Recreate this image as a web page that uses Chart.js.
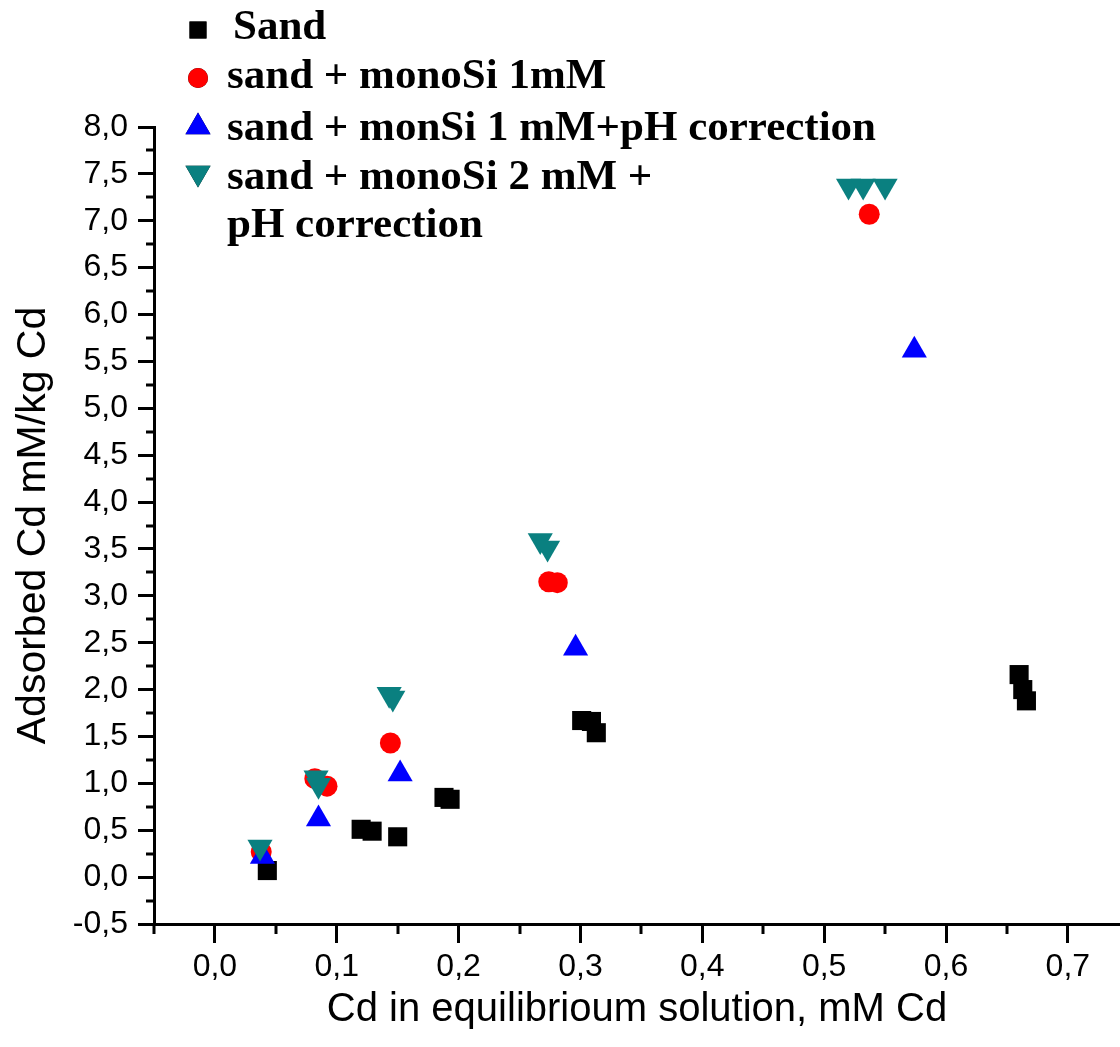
<!DOCTYPE html>
<html>
<head>
<meta charset="utf-8">
<title>Adsorbed Cd</title>
<script src="https://cdn.jsdelivr.net/npm/chart.js@4.4.1/dist/chart.umd.min.js"></script>
<style>
  body { margin: 0; background: #fff; }
  canvas { display: block; }
</style>
</head>
<body>
<canvas id="myChart" width="1120" height="1047"></canvas>
<script>
// series values
var sandX = [0.043, 0.120, 0.129, 0.150, 0.188, 0.193, 0.301, 0.309, 0.313, 0.660, 0.663, 0.666];
var sandY = [0.07, 0.51, 0.49, 0.43, 0.85, 0.83, 1.67, 1.66, 1.54, 2.16, 2.00, 1.88];

var si1X = [0.038, 0.082, 0.092, 0.144, 0.274, 0.281, 0.537];
var si1Y = [0.27, 1.05, 0.97, 1.43, 3.15, 3.14, 7.07];

var si1phX = [0.039, 0.085, 0.152, 0.296, 0.574];
var si1phY = [0.22, 0.62, 1.10, 2.44, 5.62];

var si2phX = [0.037, 0.083, 0.085, 0.143, 0.146, 0.267, 0.273, 0.520, 0.532, 0.550];
var si2phY = [0.32, 1.06, 0.98, 1.95, 1.91, 3.59, 3.51, 7.37, 7.37, 7.37];

var legendLabels = [
  ["Sand"],
  ["sand + monoSi 1mM"],
  ["sand + monSi 1 mM+pH correction"],
  ["sand + monoSi 2 mM +", "pH correction"]
];

var xTitle = "Cd in equilibrioum solution, mM Cd";
var yTitle = "Adsorbed Cd mM/kg Cd";

function pts(xs, ys) {
  var out = [];
  for (var i = 0; i < xs.length; i++) out.push({x: xs[i], y: ys[i]});
  return out;
}

function comma(v) {
  return v.toFixed(1).replace('.', ',');
}

function isMajorX(v) { return Math.abs(Math.round(v * 100)) % 10 === 0; }
function isMajorY(v) { return Math.abs(Math.round(v * 100)) % 50 === 0; }

Chart.defaults.font.family = "'Liberation Sans', Arial, sans-serif";
Chart.defaults.color = "#000";

// short (minor) ticks, the library only knows one tick length
var minorTicks = {
  id: 'minorTicks',
  afterDraw: function(chart) {
    var ctx = chart.ctx;
    var xs = chart.scales.x, ys = chart.scales.y;
    ctx.save();
    ctx.strokeStyle = '#000';
    ctx.lineWidth = 3;
    xs.ticks.forEach(function(t) {
      if (isMajorX(t.value)) return;
      var px = Math.round(xs.getPixelForValue(t.value));
      ctx.beginPath();
      ctx.moveTo(px, xs.top);
      ctx.lineTo(px, xs.top + 10);
      ctx.stroke();
    });
    ys.ticks.forEach(function(t) {
      if (isMajorY(t.value)) return;
      var py = Math.round(ys.getPixelForValue(t.value));
      ctx.beginPath();
      ctx.moveTo(ys.right, py);
      ctx.lineTo(ys.right - 8, py);
      ctx.stroke();
    });
    ctx.restore();
  }
};

// legend in the top left corner
var cornerLegend = {
  id: 'cornerLegend',
  afterDraw: function(chart) {
    var ctx = chart.ctx;
    var rows = [39, 88, 140, 189];
    var markY = [30, 78, 127, 173];
    ctx.save();
    ctx.fillStyle = '#000';
    ctx.textBaseline = 'alphabetic';
    ctx.font = "bold 43px 'Liberation Serif', 'Times New Roman', serif";
    chart.data.datasets.forEach(function(ds, i) {
      Chart.helpers.drawPoint(ctx, {
        pointStyle: ds.pointStyle,
        radius: ds.legendRadius,
        rotation: ds.rotation || 0,
        borderWidth: 0
      }, 198, markY[i]);
      ctx.fillStyle = ds.backgroundColor;
      ctx.fill();
      ctx.fillStyle = '#000';
      var lines = legendLabels[i];
      for (var k = 0; k < lines.length; k++) {
        ctx.fillText(lines[k], i === 0 ? 233 : 227, rows[i] + k * 48);
      }
    });
    ctx.restore();
  }
};

new Chart("myChart", {
  type: "scatter",
  data: {
    datasets: [{
      label: legendLabels[0].join(' '),
      data: pts(sandX, sandY),
      pointStyle: 'rect',
      radius: 13.5,
      legendRadius: 12,
      backgroundColor: '#000000',
      borderColor: '#000000',
      borderWidth: 0,
      order: 4
    }, {
      label: legendLabels[1].join(' '),
      data: pts(si1X, si1Y),
      pointStyle: 'circle',
      radius: 10.5,
      legendRadius: 10,
      backgroundColor: '#ff0000',
      borderColor: '#ff0000',
      borderWidth: 0,
      order: 3
    }, {
      label: legendLabels[2].join(' '),
      data: pts(si1phX, si1phY),
      pointStyle: 'triangle',
      radius: 14.5,
      legendRadius: 14.5,
      backgroundColor: '#0000ff',
      borderColor: '#0000ff',
      borderWidth: 0,
      order: 2
    }, {
      label: legendLabels[3].join(' '),
      data: pts(si2phX, si2phY),
      pointStyle: 'triangle',
      rotation: 180,
      radius: 14.5,
      legendRadius: 14.5,
      backgroundColor: '#0a8080',
      borderColor: '#0a8080',
      borderWidth: 0,
      order: 1
    }]
  },
  options: {
    responsive: false,
    animation: false,
    layout: { autoPadding: false, padding: { top: 127, right: 0, left: 0, bottom: 0 } },
    plugins: {
      legend: { display: false },
      tooltip: { enabled: false }
    },
    elements: { point: { hoverRadius: 14 } },
    scales: {
      x: {
        type: 'linear',
        min: -0.05,
        max: 0.7428,
        afterFit: function(scale) {
          scale.height = 123;
          scale.paddingLeft = 0;
          scale.paddingRight = 0;
        },
        border: { display: true, color: '#000', width: 3 },
        grid: {
          drawOnChartArea: false,
          drawTicks: true,
          tickLength: 19,
          tickWidth: 3,
          tickColor: function(c) { return c.tick && isMajorX(c.tick.value) ? '#000' : 'rgba(0,0,0,0)'; }
        },
        ticks: {
          stepSize: 0.05,
          includeBounds: false,
          autoSkip: false,
          maxRotation: 0,
          padding: 5,
          font: { size: 32 },
          callback: function(v) { return isMajorX(v) ? comma(v) : ''; }
        },
        title: {
          display: true,
          text: xTitle,
          font: { size: 40 },
          padding: { top: 0, bottom: 13 }
        }
      },
      y: {
        type: 'linear',
        min: -0.5,
        max: 8.0,
        afterFit: function(scale) { scale.width = 154; },
        border: { display: true, color: '#000', width: 3 },
        grid: {
          drawOnChartArea: false,
          drawTicks: true,
          tickLength: 16,
          tickWidth: 3,
          tickColor: function(c) { return c.tick && isMajorY(c.tick.value) ? '#000' : 'rgba(0,0,0,0)'; }
        },
        ticks: {
          stepSize: 0.25,
          autoSkip: false,
          padding: 10,
          font: { size: 32 },
          callback: function(v) { return isMajorY(v) ? comma(v) : ''; }
        },
        title: {
          display: true,
          text: yTitle,
          font: { size: 41 },
          padding: { top: 9, bottom: 0 }
        }
      }
    }
  },
  plugins: [minorTicks, cornerLegend]
});
</script>
</body>
</html>
